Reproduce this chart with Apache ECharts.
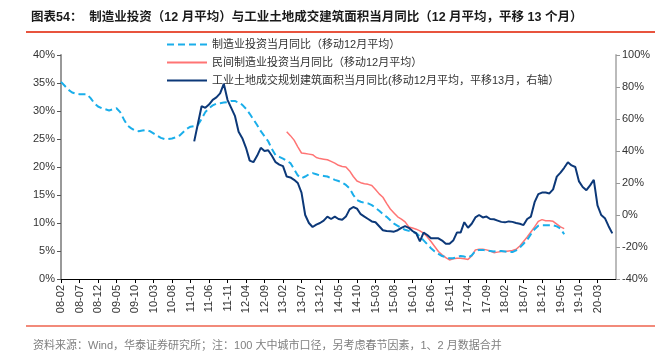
<!DOCTYPE html>
<html>
<head>
<meta charset="utf-8">
<script src="https://cdn.jsdelivr.net/npm/echarts@6/dist/echarts.min.js"></script>
<style>
    html, body { margin: 0; padding: 0; background: #fff; }
    #chart { width: 668px; height: 351px; }
</style>
</head>
<body>
<div id="chart"></div>
<script>
// 月份：08-02 ~ 20-08
var startYear = 2008, startMonth = 2, monthCount = 151;
var months = [];
for (var k = 0; k < monthCount; k++) {
    var m = startMonth - 1 + k;
    var yy = (startYear + Math.floor(m / 12)) % 100;
    var mm = m % 12 + 1;
    months.push((yy < 10 ? '0' : '') + yy + '-' + (mm < 10 ? '0' : '') + mm);
}

// 制造业投资当月同比（移动12月平均），左轴，从08-02开始
var manuInv = [
    35.2, 34.5, 33.8, 33.3, 33.1, 33.0, 33.0, 33.0, 32.3, 31.4,
    30.8, 30.5, 30.3, 30.1, 30.3, 30.5, 29.8, 28.5, 27.4, 26.9,
    26.5, 26.4, 26.5, 26.6, 26.4, 26.0, 25.6, 25.2, 25.0, 25.0,
    25.1, 25.3, 25.6, 26.2, 26.8, 27.2, 27.3, 27.5, 28.6, 29.8,
    30.5, 31.0, 31.3, 31.4, 31.5, 31.6, 31.8, 31.8, 31.5, 31.1,
    30.4, 29.5, 28.5, 27.5, 26.4, 25.5, 24.6, 23.2, 22.1, 21.8,
    21.5, 21.1, 20.7, 19.6, 18.5, 18.0, 18.3, 18.7, 18.9, 18.7,
    18.5, 18.4, 18.3, 18.0, 17.7, 17.5, 17.2, 16.8, 16.2, 15.0,
    14.1, 13.8, 13.6, 13.5, 13.2, 12.7, 12.2, 11.6, 11.1, 10.5,
    9.9, 9.5, 9.1, 8.8, 8.6, 8.4, 8.2, 7.6, 6.9, 6.2,
    5.5, 4.9, 4.5, 4.1, 3.9, 3.7, 3.7, 3.9, 4.1, 4.0,
    3.8, 4.2, 5.0, 5.2, 5.2, 5.1, 5.0, 4.9, 5.0, 5.0,
    4.9, 4.8, 4.8, 5.1, 5.6, 6.3, 7.0, 8.0, 8.9, 9.5,
    9.6, 9.6, 9.6, 9.6, 9.4, 9.0, 8.0
];

// 民间制造业投资当月同比（移动12月平均），左轴，从13-03开始
var privStart = 61;
var privManuInv = [
    26.3, 25.6, 24.8, 23.6, 22.5, 22.4, 22.3, 22.2, 21.7, 21.5,
    21.4, 21.3, 21.0, 20.7, 20.3, 20.1, 20.0, 19.3, 18.3, 17.5,
    17.2, 17.0, 16.9, 16.7, 16.0, 15.2, 14.6, 13.5, 12.5, 11.8,
    11.1, 10.7, 10.2, 9.3, 9.1, 8.9, 8.6, 8.2, 7.5, 6.7,
    5.8, 4.9, 4.3, 3.8, 3.4, 3.6, 3.7, 3.7, 3.6, 3.5,
    4.1, 5.2, 5.3, 5.3, 5.2, 5.0, 4.7, 4.8, 4.9, 4.9,
    5.0, 5.1, 5.3, 5.9, 6.7, 7.5, 8.4, 9.3, 10.3, 10.6,
    10.4, 10.4, 10.3, 9.8, 9.3, 9.0
];

// 工业土地成交规划建筑面积当月同比（平移13月），右轴，从11-02开始
var landStart = 36;
var landArea = [
    46, 57, 68, 67, 69, 72, 73.5, 76, 82, 72,
    67, 62, 52, 48, 42, 34, 33, 37, 42, 40,
    40.5, 37, 33, 31.5, 30.5, 24, 23.5, 22, 20, 14,
    0, -5, -7.5, -6, -5, -3.5, -1, -2.5, -1, -2.5,
    -3, -1, 3.5, 5, 4, 0.5, -1, -2.5, -4, -4.5,
    -7, -9.5, -10, -10.2, -10.4, -9.5, -8, -7, -8, -10,
    -11.5, -16.5, -11, -12.5, -14.5, -14.6, -14.6, -16, -18, -18,
    -16, -11, -11, -4.5, -8, -5.5, -1.5, 0, -1.5, -1,
    -2.5, -2.7, -3.5, -4.3, -4.6, -4, -4.3, -5, -5.5, -6.3,
    -2.5, -1, 8, 13, 14, 14, 13.5, 16, 24, 26.5,
    29.5, 33, 31, 30, 21, 17.5, 15.5, 18.5, 22, 6,
    0, -2, -7, -11.5
];

var seriesNames = [
    '制造业投资当月同比（移动12月平均）',
    '民间制造业投资当月同比（移动12月平均）',
    '工业土地成交规划建筑面积当月同比(移动12月平均，平移13月，右轴）'
];

// 前面补空值
function padFront(arr, start) {
    var out = [];
    for (var i = 0; i < start; i++) out.push(null);
    return out.concat(arr);
}

var fontCn = '"Liberation Sans", "Noto Sans CJK SC", sans-serif';
var myChart = echarts.init(document.getElementById('chart'));
var option = {
    animation: false,
    textStyle: { fontFamily: fontCn },
    title: [{
        text: '图表54：  制造业投资（12 月平均）与工业土地成交建筑面积当月同比（12 月平均，平移 13 个月）',
        left: 26,
        top: 6,
        textStyle: { fontSize: 12.5, fontWeight: 'bold', color: '#1a1a1a', fontFamily: fontCn }
    }, {
        text: '资料来源：Wind，华泰证券研究所；注：100 大中城市口径，另考虑春节因素，1、2 月数据合并',
        left: 28,
        top: 335,
        textStyle: { fontSize: 11, fontWeight: 'normal', color: '#7f7f7f', fontFamily: fontCn }
    }],
    graphic: [{
        type: 'line',
        shape: { x1: 26, y1: 32, x2: 655, y2: 32 },
        style: { stroke: '#e8543e', lineWidth: 2 }
    }, {
        type: 'line',
        shape: { x1: 26, y1: 326, x2: 655, y2: 326 },
        style: { stroke: '#f28a7a', lineWidth: 2 }
    }],
    legend: {
        orient: 'vertical',
        left: 161,
        top: 34,
        itemWidth: 40,
        itemHeight: 10,
        itemGap: 7,
        itemStyle: { opacity: 0 },   // 图例只显示线，不显示圆点
        textStyle: { fontSize: 11, color: '#333' },
        data: seriesNames
    },
    grid: { left: 61, right: 52, top: 55, bottom: 72 },
    xAxis: {
        type: 'category',
        boundaryGap: false,
        data: months,
        axisLine: { lineStyle: { color: '#000', width: 1 } },
        axisTick: { interval: 4, length: 4, lineStyle: { color: '#000' } },
        axisLabel: { interval: 4, rotate: 90, fontSize: 11, color: '#333', margin: 6, showMaxLabel: false },
        splitLine: { show: false }
    },
    yAxis: [{
        type: 'value',
        min: 0,
        max: 40,
        interval: 5,
        axisLine: { show: true, lineStyle: { color: '#999', width: 2 } },
        axisTick: { show: true, length: 4, lineStyle: { color: '#555' } },
        axisLabel: { formatter: '{value}%', fontSize: 11, color: '#333', margin: 6 },
        splitLine: { show: false }
    }, {
        type: 'value',
        min: -40,
        max: 100,
        interval: 20,
        position: 'right',
        axisLine: { show: true, lineStyle: { color: '#bbb', width: 2 } },
        axisTick: { show: true, length: 4, lineStyle: { color: '#999' } },
        axisLabel: { formatter: '{value}%', fontSize: 11, color: '#333', margin: 6 },
        splitLine: { show: false }
    }],
    series: [{
        name: seriesNames[0],
        type: 'line',
        yAxisIndex: 0,
        symbol: 'none',
        data: manuInv,
        lineStyle: { color: '#1aaeea', width: 2, type: [7, 4] },
        itemStyle: { color: '#1aaeea' },
        z: 3
    }, {
        name: seriesNames[1],
        type: 'line',
        yAxisIndex: 0,
        symbol: 'none',
        data: padFront(privManuInv, privStart),
        lineStyle: { color: '#ff7474', width: 1.5 },
        itemStyle: { color: '#ff7474' },
        z: 2
    }, {
        name: seriesNames[2],
        type: 'line',
        yAxisIndex: 1,
        symbol: 'none',
        data: padFront(landArea, landStart),
        lineStyle: { color: '#0c3878', width: 2 },
        itemStyle: { color: '#0c3878' },
        z: 4
    }]
};
myChart.setOption(option);
</script>
</body>
</html>
